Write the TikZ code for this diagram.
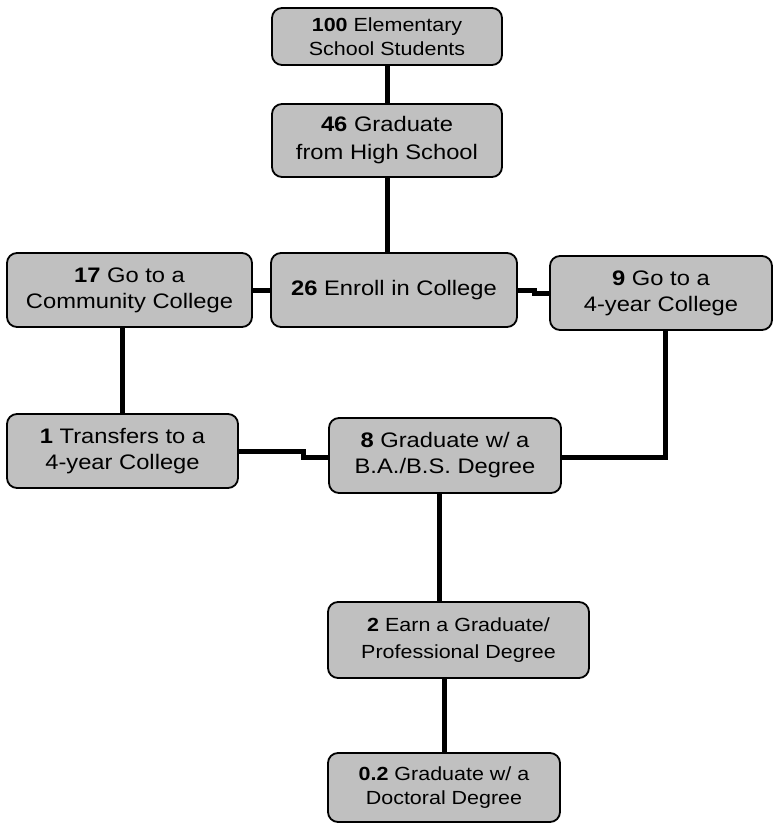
\documentclass[tikz,border=0pt]{standalone}
\usepackage{fontspec}
\setmainfont{Liberation Sans}[FakeStretch=1.13]
\begin{document}
\begin{tikzpicture}[x=1pt,y=-1pt,
  box/.style={draw=black, line width=1.8pt, fill=boxgray, rounded corners=10pt, align=center, inner sep=0pt},
  big/.style={font=\fontsize{21}{26}\selectfont},
  small/.style={font=\fontsize{19}{24}\selectfont},
  link/.style={line width=5pt, draw=black}]
\definecolor{boxgray}{HTML}{C0C0C0}
\fill[white] (0,0) rectangle (774,825);
\useasboundingbox (0,0) rectangle (774,825);
\node[box, small, minimum width=230pt, minimum height=57pt] (b100) at (387,36.5) {\textbf{100} Elementary\\School Students};
\node[box, big, minimum width=230pt, minimum height=73pt, font=\fontsize{21}{28}\selectfont] (b46) at (387,140.5) {\textbf{46} Graduate\\from High School};
\node[box, big, minimum width=246pt, minimum height=74pt] (b26) at (394,290) {\textbf{26} Enroll in College};
\node[box, big, minimum width=245pt, minimum height=74pt] (b17) at (129.5,290) {\textbf{17} Go to a\\Community College};
\node[box, big, minimum width=222pt, minimum height=74pt] (b9) at (661,293) {\textbf{9} Go to a\\4-year College};
\node[box, big, minimum width=231pt, minimum height=74pt] (bT) at (122.5,451) {\textbf{1} Transfers to a\\4-year College};
\node[box, big, minimum width=232pt, minimum height=75pt] (b8) at (445,455.5) {\textbf{8} Graduate w/ a\\B.A./B.S. Degree};
\node[box, small, minimum width=261pt, minimum height=76pt, font=\fontsize{19}{27}\selectfont] (bE) at (458.5,640) {\textbf{2} Earn a Graduate/\\Professional Degree};
\node[box, small, minimum width=232pt, minimum height=69pt] (b02) at (444,787.5) {\textbf{0.2} Graduate w/ a\\Doctoral Degree};
\begin{scope}[on background layer/.style={}]
\end{scope}
\draw[link] (b100.south) -- (b46.north);
\draw[link] (b46.south) -- (b46.south |- b26.north);
\draw[link] (b17.east) -- (b26.west);
\draw[link] (b26.east) -- ([xshift=17pt]b26.east) |- (b9.west);
\draw[link] (b17.south -| bT.north) -- (bT.north);
\draw[link] (bT.east) -- ([xshift=65pt]bT.east) |- ([yshift=-1.5pt]b8.west);
\draw[link] ([xshift=4.5pt]b9.south) |- ([yshift=-1.5pt]b8.east);
\draw[link] ([xshift=-6pt]b8.south) -- ([xshift=-6pt]b8.south |- bE.north);
\draw[link] (b02.north |- bE.south) -- (b02.north);
\end{tikzpicture}
\end{document}
